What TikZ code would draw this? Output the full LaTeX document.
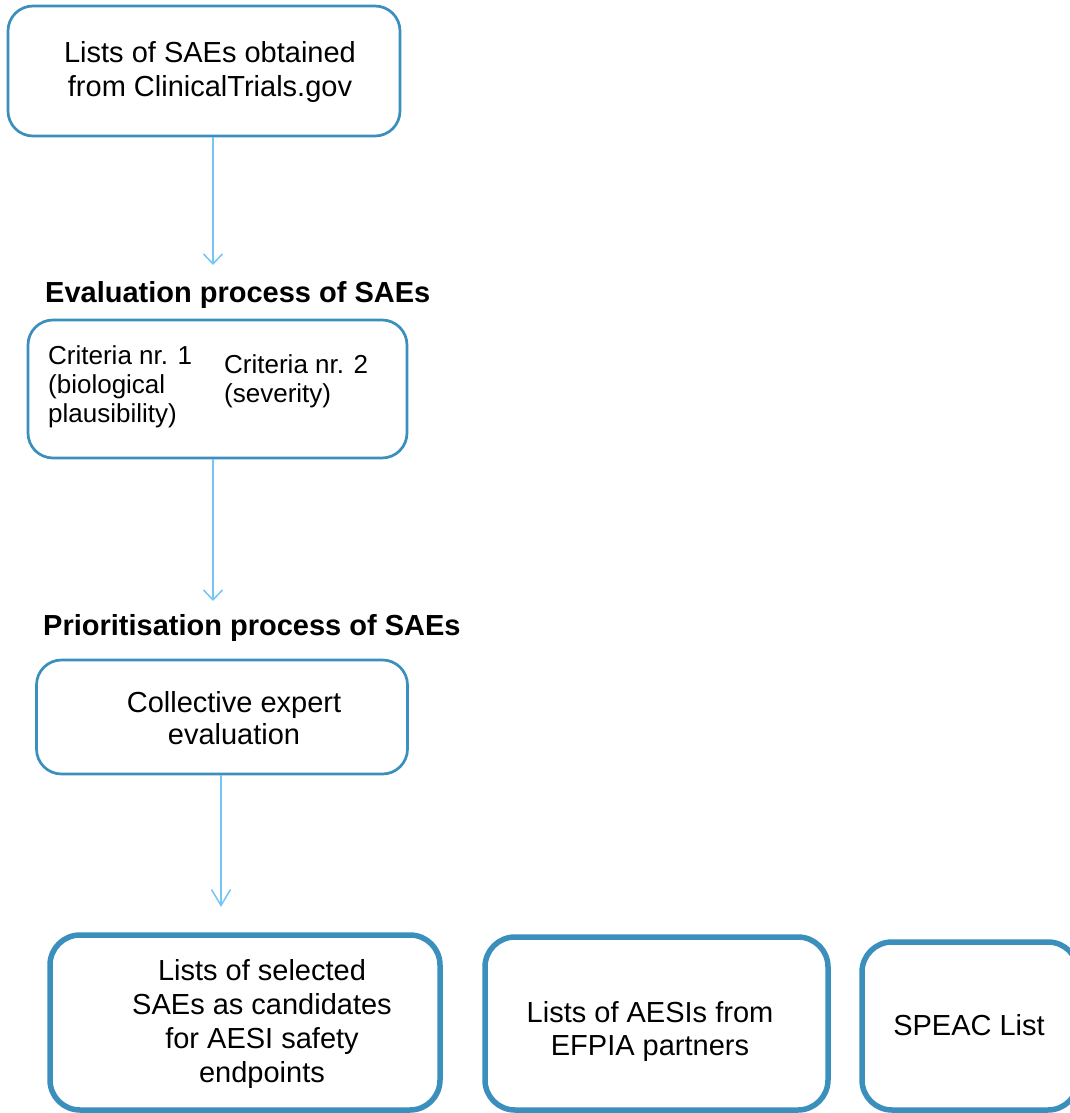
\documentclass[tikz,border=0pt]{standalone}
\usepackage{fontspec}
\setmainfont{Liberation Sans}
\usetikzlibrary{arrows.meta}
\definecolor{boxblue}{RGB}{58,143,189}
\definecolor{arrblue}{RGB}{115,198,246}
\tikzset{
  thinbox/.style={draw=boxblue, line width=2.7pt, rounded corners=25pt, inner sep=0pt},
  thickbox/.style={draw=boxblue, line width=5.5pt, rounded corners=30pt, inner sep=0pt},
  txt/.style={inner sep=0pt, font=\fontsize{29}{33.5}\selectfont, align=center},
  smalltxt/.style={inner sep=0pt, font=\fontsize{26}{29}\selectfont, align=left},
  heading/.style={inner sep=0pt, font=\fontsize{29}{33.5}\selectfont\bfseries, anchor=base west},
  conn/.style={draw=arrblue, line width=1.5pt},
  arrshort/.style={conn, -{Straight Barb[length=10pt,width=19pt,line width=1.5pt]}},
  arrlong/.style={conn, -{Straight Barb[length=16pt,width=19pt,line width=1.5pt]}}
}
\begin{document}
\begin{tikzpicture}[x=1pt,y=-1pt]
\useasboundingbox (0,0) rectangle (1070,1113);
% boxes
\node[thinbox, minimum width=392pt, minimum height=130pt] (b1) at (204,71) {};
\node[thinbox, minimum width=379pt, minimum height=138pt] (b2) at (217.5,389) {};
\node[thinbox, minimum width=371pt, minimum height=114pt] (b3) at (222,717) {};
\node[thickbox, minimum width=390pt, minimum height=175pt] (b4) at (245,1022.5) {};
\node[thickbox, minimum width=343pt, minimum height=173pt] (b5) at (656.5,1023.5) {};
\node[thickbox, minimum width=216pt, minimum height=168pt] (b6) at (970,1026) {};
% texts
\node[txt] (t1) at (210,72) {Lists of SAEs obtained\\from ClinicalTrials.gov};
\node[heading] (h1) at (45,302) {Evaluation process of SAEs};
\node[smalltxt, anchor=north west] (c1) at (48,345) {Criteria nr. 1\\(biological\\plausibility)};
\node[smalltxt, anchor=north west] (c2) at (224,354) {Criteria nr. 2\\(severity)};
\node[heading] (h2) at (43,635) {Prioritisation process of SAEs};
\node[txt, font=\fontsize{29}{32}\selectfont, anchor=north] (t3) at (234,691) {Collective expert\\evaluation};
\node[txt, font=\fontsize{29}{34}\selectfont, anchor=north] (t4) at (262,959) {Lists of selected\\SAEs as candidates\\for AESI safety\\endpoints};
\node[txt, anchor=north] (t5) at (650,1001) {Lists of AESIs from\\EFPIA partners};
\node[txt, anchor=base] (t6) at (969,1035) {SPEAC List};
% arrow tips
\coordinate (p1) at (213,265);
\coordinate (p2) at (213,601);
\coordinate (p3) at (221,907);
% connectors
\draw[arrshort] (b1.south -| p1) -- (p1);
\draw[arrshort] (b2.south -| p2) -- (p2);
\draw[arrlong] (b3.south -| p3) -- (p3);
\end{tikzpicture}
\end{document}
